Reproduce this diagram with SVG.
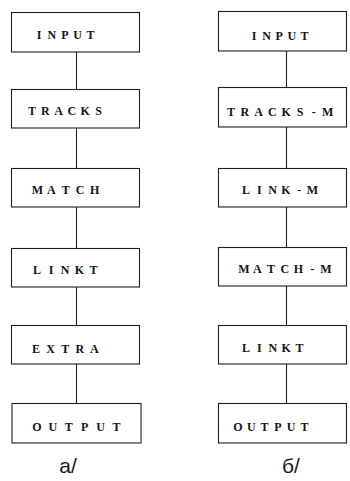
<svg xmlns="http://www.w3.org/2000/svg" width="350" height="481" viewBox="0 0 350 481">
  <style>
    .box { fill: #ffffff; stroke: #1e1e1e; stroke-width: 1.1; }
    .wire { stroke: #1e1e1e; stroke-width: 1.1; fill: none; }
    /* typewriter-style labels: every glyph placed on a fixed pitch and centred on its slot */
    .lbl { font-family: "Liberation Serif", "DejaVu Serif", serif; font-weight: bold; font-size: 12px; fill: #141414; text-anchor: middle; }
    .cap { font-family: "Liberation Sans", Arial, sans-serif; font-size: 21px; fill: #1a1a1a; text-anchor: middle; }
  </style>
  <rect width="350" height="481" fill="#ffffff"/>

  <g id="connectors">
    <line class="wire" x1="76.5" y1="52" x2="76.5" y2="89"/>
    <line class="wire" x1="76.5" y1="128" x2="76.5" y2="168"/>
    <line class="wire" x1="76.5" y1="207" x2="76.5" y2="248"/>
    <line class="wire" x1="76.5" y1="287" x2="76.5" y2="325"/>
    <line class="wire" x1="76.5" y1="364" x2="76.5" y2="403"/>

    <line class="wire" x1="286.5" y1="51" x2="286.5" y2="87"/>
    <line class="wire" x1="286.5" y1="127" x2="286.5" y2="168"/>
    <line class="wire" x1="286.5" y1="207" x2="286.5" y2="247"/>
    <line class="wire" x1="286.5" y1="286" x2="286.5" y2="325"/>
    <line class="wire" x1="286.5" y1="364" x2="286.5" y2="403"/>
  </g>

  <!-- column a -->
  <g id="a-input">
    <rect class="box" x="11.5" y="12.5" width="128" height="39.5"/>
    <text class="lbl" x="39 51.9 64.8 77.7 90.6" y="39">INPUT</text>
  </g>
  <g id="a-tracks">
    <rect class="box" x="11.5" y="89.5" width="128" height="38.5"/>
    <text class="lbl" x="32 45.3 58.6 71.9 85.2 98.5" y="115">TRACKS</text>
  </g>
  <g id="a-match">
    <rect class="box" x="11.5" y="168.5" width="128" height="38.5"/>
    <text class="lbl" x="37.5 51.4 65.8 80.2 94.6" y="194">MATCH</text>
  </g>
  <g id="a-linkt">
    <rect class="box" x="11.5" y="248.5" width="128" height="38.5"/>
    <text class="lbl" x="37 51.1 65.2 79.3 93.4" y="274">LINKT</text>
  </g>
  <g id="a-extra">
    <rect class="box" x="11.5" y="325.5" width="128" height="38.5"/>
    <text class="lbl" x="36 50.6 65.2 79.8 94.4" y="353">EXTRA</text>
  </g>
  <g id="a-output">
    <rect class="box" x="12" y="403.5" width="129" height="39.5"/>
    <text class="lbl" x="37 52.9 68.8 84.7 100.6 116.5" y="431">OUTPUT</text>
  </g>

  <!-- column б -->
  <g id="b-input">
    <rect class="box" x="218.5" y="11.5" width="128" height="39.5"/>
    <text class="lbl" x="254 266.6 279.2 291.8 304.4" y="40">INPUT</text>
  </g>
  <g id="b-tracks-m">
    <rect class="box" x="218.5" y="87.5" width="128" height="39.5"/>
    <text class="lbl" x="231 244.8 258.6 272.4 286.2 300 313.8 327.6" y="115.5">TRACKS-M</text>
  </g>
  <g id="b-link-m">
    <rect class="box" x="218.5" y="168.5" width="128" height="38.5"/>
    <text class="lbl" x="246 259.3 272.6 285.9 299.2 312.5" y="194">LINK-M</text>
  </g>
  <g id="b-match-m">
    <rect class="box" x="218.5" y="247.5" width="128" height="38.5"/>
    <text class="lbl" x="244 257.25 271 284.75 298.5 312.25 326" y="273">MATCH-M</text>
  </g>
  <g id="b-linkt">
    <rect class="box" x="218.5" y="325.5" width="128" height="38.5"/>
    <text class="lbl" x="246 259.4 272.8 286.2 299.6" y="352">LINKT</text>
  </g>
  <g id="b-output">
    <rect class="box" x="218.5" y="403.5" width="128" height="39.5"/>
    <text class="lbl" x="238 251.3 264.6 277.9 291.2 304.5" y="431">OUTPUT</text>
  </g>

  <text class="cap" x="68" y="473">a/</text>
  <text class="cap" x="291" y="473">б/</text>
</svg>
